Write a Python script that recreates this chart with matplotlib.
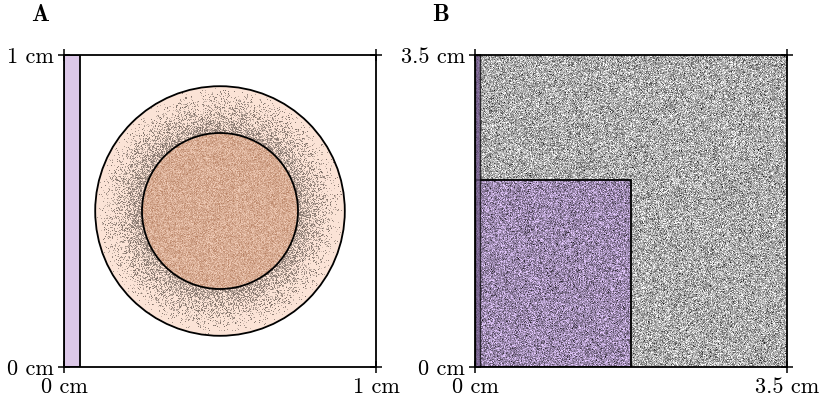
import numpy as np
import matplotlib.pyplot as plt
from matplotlib.colors import to_rgb
from matplotlib.patches import Rectangle, Circle

# ---- chart values (cm) ----
panel_a_size = 1.0
panel_b_size = 3.5
strip_width = 0.05
circle_center = (0.5, 0.5)
inner_radius = 0.25
outer_radius = 0.40
rect_b_width = 1.75
rect_b_height = 2.1

panel_labels = ['A', 'B']
a_ticks = [0, 1]
a_ticklabels = ['0 cm', '1 cm']
b_ticks = [0, 3.5]
b_ticklabels = ['0 cm', '3.5 cm']

# colours
strip_color = '#dcc8e8'
ring_color = '#fbe3d6'
core_light = '#f1cdb8'
core_dark = '#b98467'
purple_tint = (0.91, 0.80, 1.02)

plt.rcParams['font.family'] = ['cmr10', 'DejaVu Serif']
plt.rcParams['axes.formatter.use_mathtext'] = True

rng = np.random.default_rng(7)  # particle texture only

fig = plt.figure(figsize=(8.2, 4.03), dpi=100)
ax_a = fig.add_axes([63 / 820, 1 - 367 / 403, 314 / 820, 312 / 403])
ax_b = fig.add_axes([475 / 820, 1 - 367 / 403, 313 / 820, 312 / 403])


def style_axes(ax, size, ticks, labels):
    ax.set_xlim(0, size)
    ax.set_ylim(0, size)
    ax.set_xticks(ticks)
    ax.set_yticks(ticks)
    ax.set_xticklabels(labels)
    ax.set_yticklabels(labels)
    ax.tick_params(direction='inout', length=9, width=1.1, labelsize=16,
                   top=True, right=True, pad=3)
    for sp in ax.spines.values():
        sp.set_linewidth(1.3)
        sp.set_zorder(10)


# ================== panel A ==================
n = 314
xs = (np.arange(n) + 0.5) / n * panel_a_size
X, Y = np.meshgrid(xs, xs)
R = np.hypot(X - circle_center[0], Y - circle_center[1])

ring_rgb = np.array(to_rgb(ring_color))
img = np.ones((n, n, 4))
img[..., :3] = ring_rgb
# grey particles in the ring, denser towards the core
t = np.clip((outer_radius - R) / (outer_radius - inner_radius), 0, 1)
p = 0.8 * t ** 1.1
dots = (rng.random((n, n)) < p)[..., None]
k = rng.uniform(0.15, 0.6, (n, n))[..., None]
speck = ring_rgb * (1 - k) + np.array([0.15, 0.12, 0.1]) * k
img[..., :3] = np.where(dots, speck, img[..., :3])
# core mixture
cl = np.array(to_rgb(core_light))
cd = np.array(to_rgb(core_dark))
mix = np.clip(rng.normal(0.45, 0.25, (n, n)), 0, 1)[..., None]
core = cl * (1 - mix) + cd * mix
inside = (R <= inner_radius)[..., None]
img[..., :3] = np.where(inside, core, img[..., :3])
img[..., 3] = np.where(R <= outer_radius, 1.0, 0.0)

ax_a.imshow(img, extent=[0, panel_a_size, 0, panel_a_size], origin='lower',
            interpolation='nearest', zorder=1)
ax_a.add_patch(Circle(circle_center, outer_radius, fill=False, ec='black', lw=1.3, zorder=3))
ax_a.add_patch(Circle(circle_center, inner_radius, fill=False, ec='black', lw=1.3, zorder=3))
ax_a.add_patch(Rectangle((0, 0), strip_width, panel_a_size, fc=strip_color,
                         ec='black', lw=1.3, zorder=4))
style_axes(ax_a, panel_a_size, a_ticks, a_ticklabels)

# ================== panel B ==================
m = 313
xb = (np.arange(m) + 0.5) / m * panel_b_size
XB, YB = np.meshgrid(xb, xb)
grey = np.clip(rng.normal(0.68, 0.18, (m, m)), 0.08, 1)
img_b = np.repeat(grey[..., None], 3, axis=2)
in_rect = ((XB <= rect_b_width) & (YB <= rect_b_height)) | (XB <= strip_width)
tint = np.array(purple_tint)
img_b = np.where(in_rect[..., None], np.clip(img_b * tint, 0, 1), img_b)
ax_b.imshow(img_b, extent=[0, panel_b_size, 0, panel_b_size], origin='lower',
            interpolation='nearest', zorder=1)
ax_b.add_patch(Rectangle((0, 0), rect_b_width, rect_b_height, fill=False,
                         ec='black', lw=1.3, zorder=3))
ax_b.add_patch(Rectangle((0, 0), strip_width, panel_b_size, fc='#6f5a86',
                         alpha=0.7, ec='black', lw=1.0, zorder=4))
style_axes(ax_b, panel_b_size, b_ticks, b_ticklabels)

# panel letters
for lab, xpx in zip(panel_labels, [40, 441]):
    fig.text(xpx / 820, 1 - 15 / 403, lab, family='cmb10', fontsize=17,
             ha='center', va='center')

fig.savefig('out.png', dpi=100)
